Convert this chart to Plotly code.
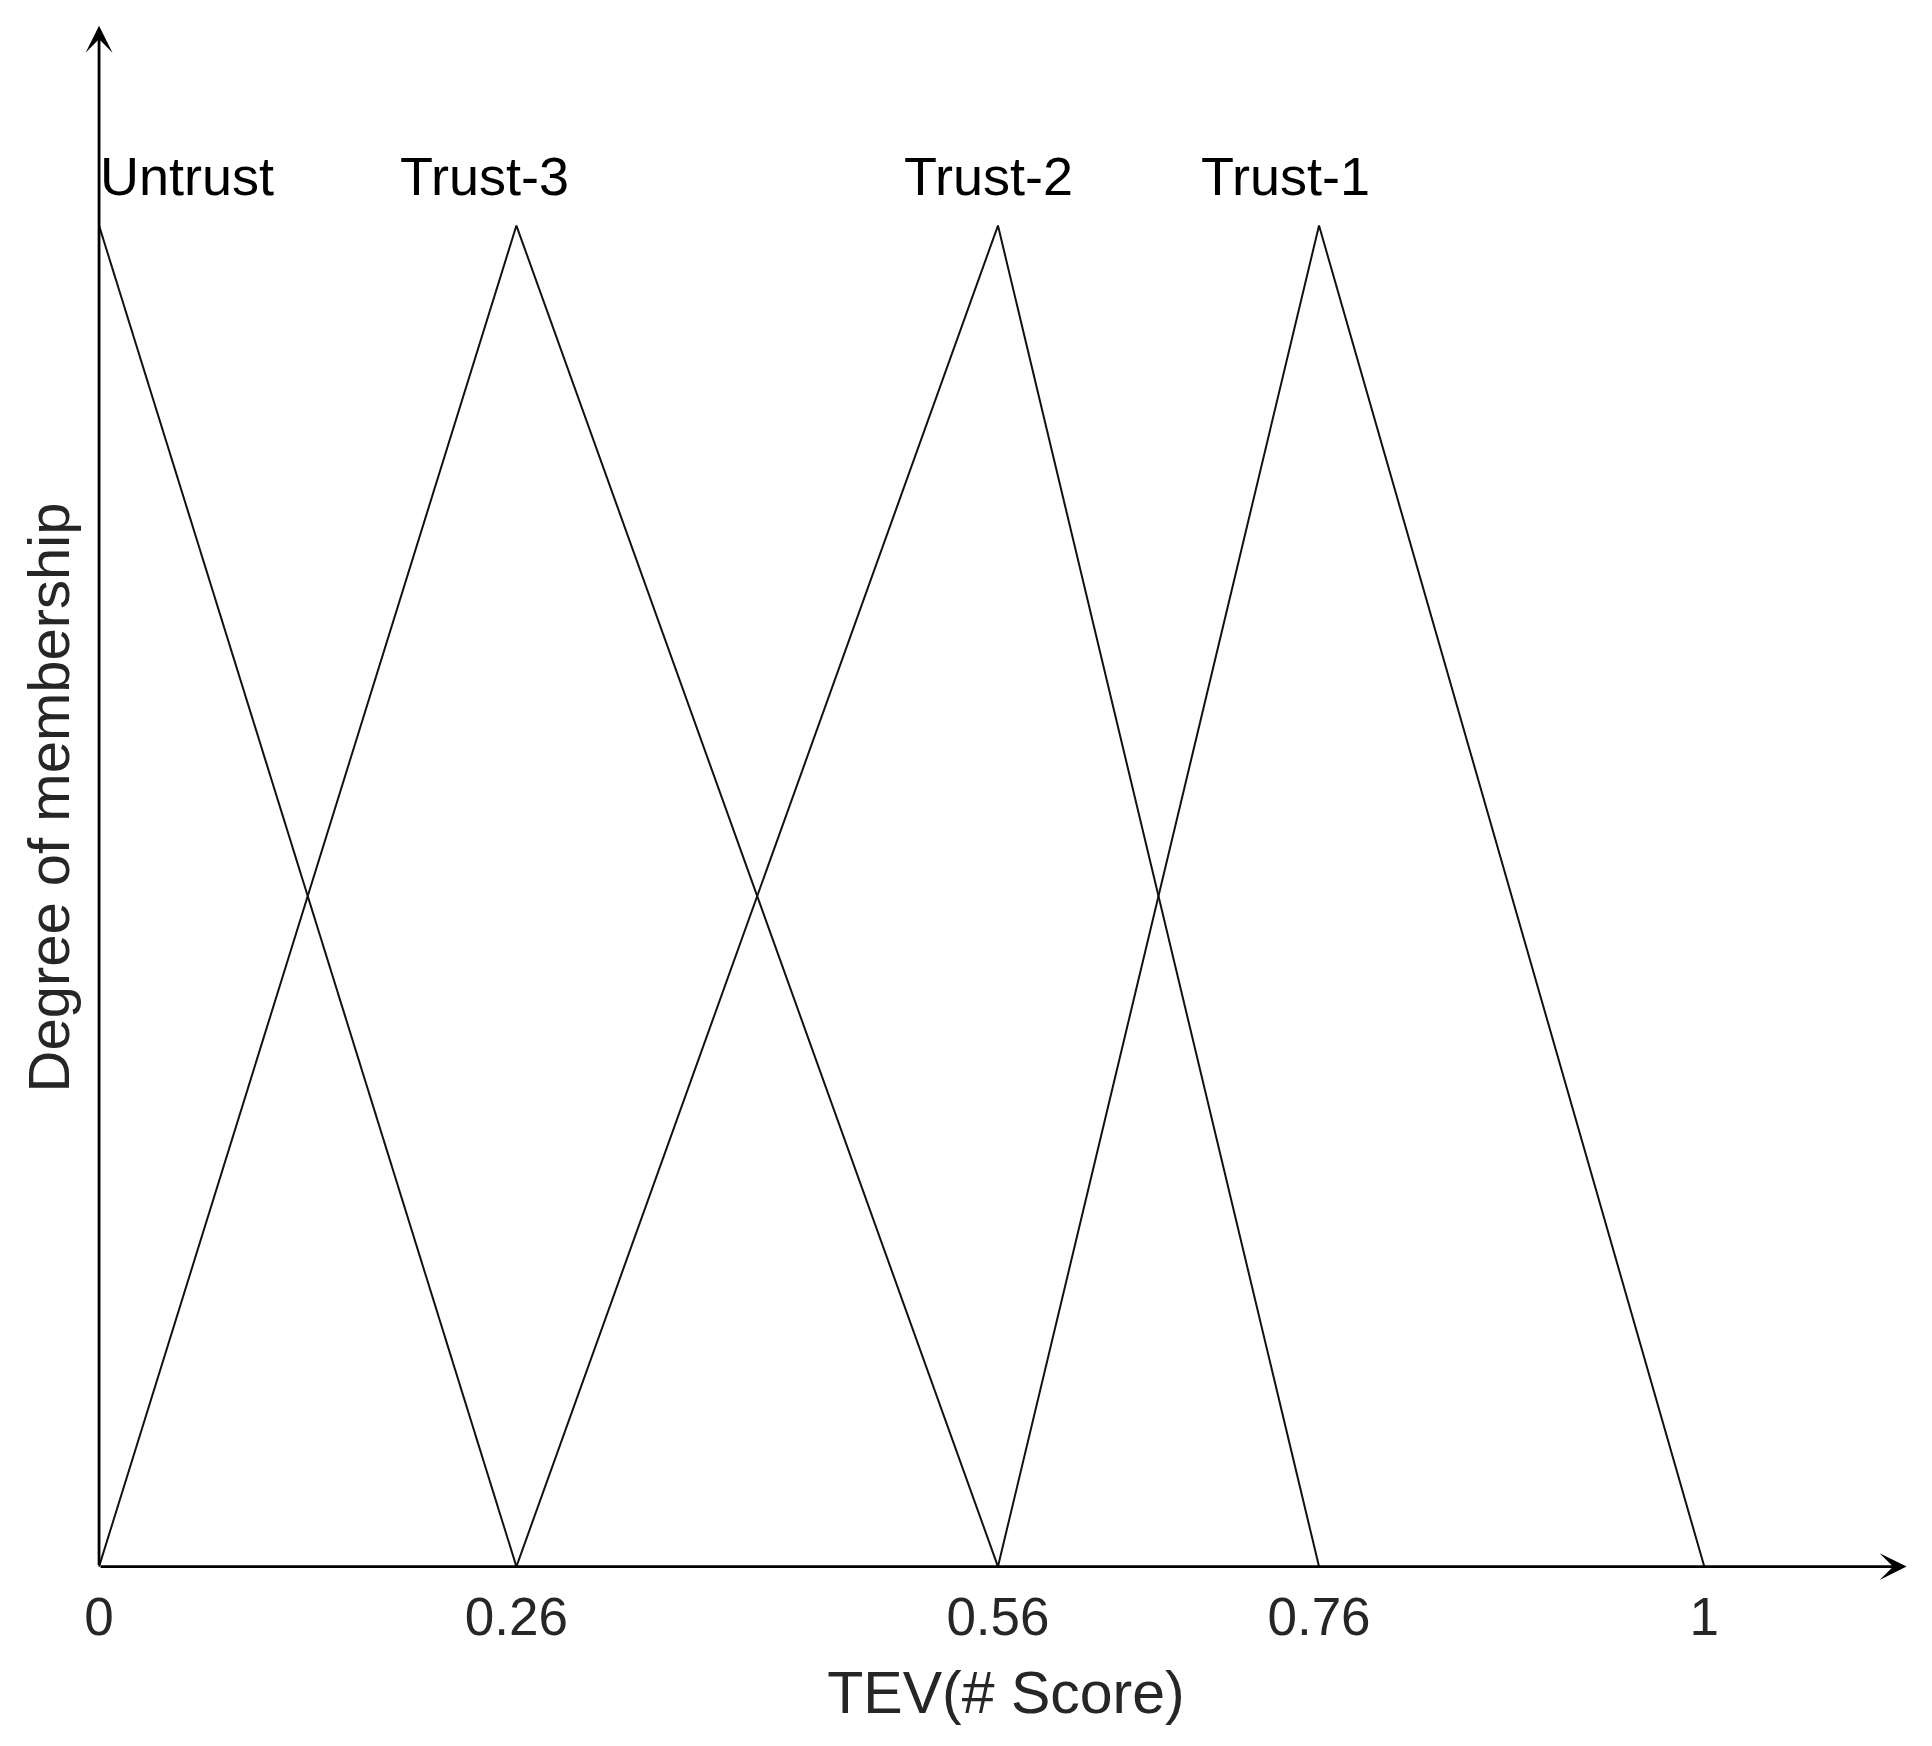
import plotly.graph_objects as go

# membership functions (triangles), x = TEV score, y = degree of membership
set_names = ['Untrust', 'Trust-3', 'Trust-2', 'Trust-1']
set_x = [
    [0, 0.26],
    [0, 0.26, 0.56],
    [0.26, 0.56, 0.76],
    [0.56, 0.76, 1],
]
set_y = [
    [1, 0],
    [0, 1, 0],
    [0, 1, 0],
    [0, 1, 0],
]
label_x = [0.055, 0.240, 0.554, 0.739]
label_y = 1.037

tick_vals = [0, 0.26, 0.56, 0.76, 1]
tick_text = ['0', '0.26', '0.56', '0.76', '1']

FONT = 'Liberation Sans, Arial, sans-serif'

fig = go.Figure()

for name, xs, ys in zip(set_names, set_x, set_y):
    fig.add_trace(go.Scatter(
        x=xs, y=ys, mode='lines', name=name,
        line=dict(color='#111111', width=2),
        showlegend=False, hoverinfo='skip'
    ))

# set labels above the peaks
for name, lx in zip(set_names, label_x):
    fig.add_annotation(
        x=lx, y=label_y, xref='x', yref='y', text=name, showarrow=False,
        font=dict(family=FONT, size=54, color='#000000'),
        xanchor='center', yanchor='middle'
    )

# axis arrows
for tip_x, tip_y in [(1.126, 0), (0, 1.149)]:
    fig.add_annotation(
        x=tip_x, y=tip_y, ax=0, ay=0, xref='x', yref='y', axref='x', ayref='y',
        text='', showarrow=True, arrowhead=3, arrowsize=1.6, arrowwidth=2.8,
        arrowcolor='#000000', standoff=0, startstandoff=0
    )

# y title as a rotated annotation, to get it close to the axis
fig.add_annotation(
    x=0, y=0.5, xref='paper', yref='paper', xshift=-35, yshift=-2,
    text='Degree of membership', textangle=-90, showarrow=False,
    font=dict(family=FONT, size=58, color='#262626'),
    xanchor='center', yanchor='middle'
)

fig.update_layout(
    width=1932, height=1746,
    paper_bgcolor='white', plot_bgcolor='white',
    margin=dict(l=75, r=11, t=3, b=174),
    xaxis=dict(
        range=[-0.01, 1.14], autorange=False,
        showgrid=False, zeroline=False, showline=False,
        tickmode='array', tickvals=tick_vals, ticktext=tick_text,
        ticks='', ticklabelstandoff=1,
        tickfont=dict(family=FONT, size=53, color='#262626'),
        title=dict(text='TEV(# Score)', standoff=26,
                   font=dict(family=FONT, size=59, color='#262626')),
        automargin=False
    ),
    yaxis=dict(
        range=[-0.01, 1.16], autorange=False,
        showgrid=False, zeroline=False, showline=False,
        showticklabels=False, ticks='',
        automargin=False
    ),
)

fig.write_html('out.html')
